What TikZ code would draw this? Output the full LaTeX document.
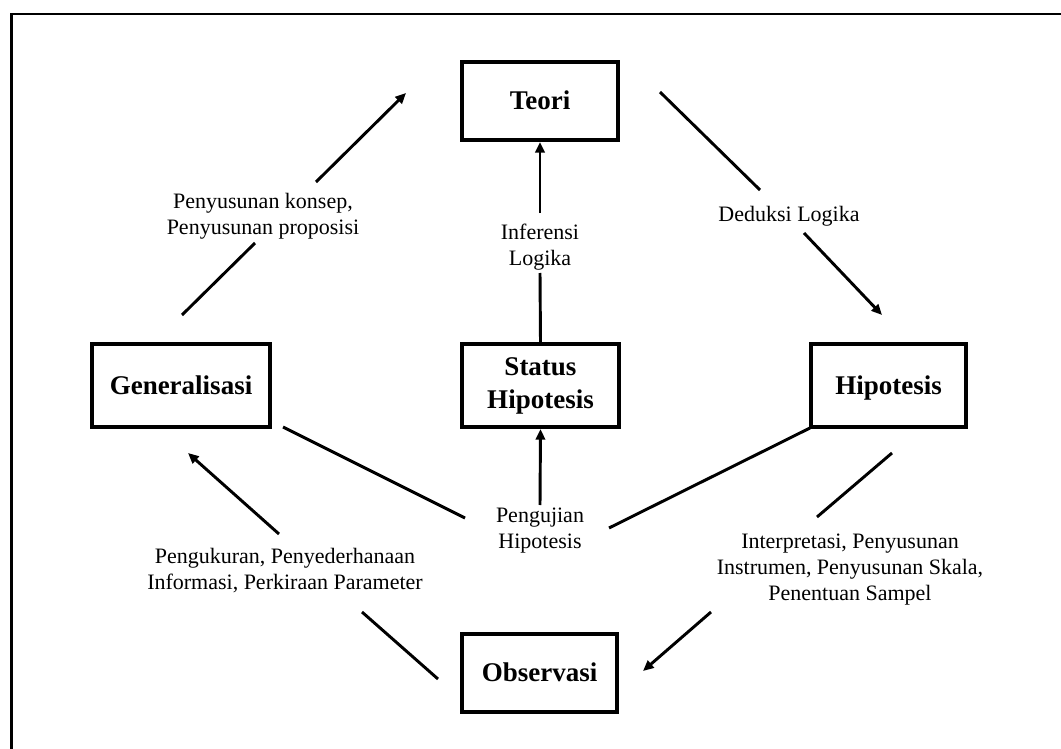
\documentclass[tikz,border=0pt]{standalone}
\usepackage{fontspec}
\setmainfont{Liberation Serif}
\usetikzlibrary{arrows.meta}
\begin{document}
\begin{tikzpicture}[x=0.75pt,y=-0.75pt,
  box/.style={draw,line width=3pt,font=\fontsize{20.25}{24.75}\selectfont\bfseries,align=center,inner sep=0pt},
  single/.style={text height=13.4pt,text depth=0pt},
  lbl/.style={font=\fontsize{16.5}{19.5}\selectfont,align=center,inner sep=0pt},
  conn/.style={line width=2.2pt},
  arr/.style={conn,-{Triangle[length=8pt,width=7pt]}}]
\useasboundingbox (0,0) rectangle (1061,749);
\draw[line width=1.8pt] (11.5,770) -- (11.5,14) -- (1080,14);

% boxes
\node[box,single,minimum width=117pt,minimum height=58.5pt] (teori) at (540,101) {Teori};
\node[box,minimum width=117.75pt,minimum height=62.25pt] (st) at (540.5,385.5) {Status\\Hipotesis};
\node[box,single,minimum width=133.5pt,minimum height=62.25pt] (gen) at (181,385.5) {Generalisasi};
\node[box,single,minimum width=116.25pt,minimum height=62.25pt] (hip) at (888.5,385.5) {Hipotesis};
\node[box,single,minimum width=116.25pt,minimum height=58.5pt] (obs) at (539.5,673) {Observasi};

% coordinates for free ends
\coordinate (gA) at (182,315);
\coordinate (gB) at (255,243);
\coordinate (gC) at (316,182);
\coordinate (gD) at (406,93);
\coordinate (tA) at (660,92);
\coordinate (tB) at (760,190);
\coordinate (tC) at (804,233);
\coordinate (tD) at (882,315);
\coordinate (iU) at (540,213);
\coordinate (iL) at (540,273);
\coordinate (gl1) at (283,427);
\coordinate (gl2) at (465,518);
\coordinate (hl1) at (810,428);
\coordinate (hl2) at (609,528);
\coordinate (ho1) at (892,453);
\coordinate (ho2) at (817,517);
\coordinate (ho3) at (711,612);
\coordinate (ho4) at (643,671);
\coordinate (og1) at (438,679);
\coordinate (og2) at (362,612);
\coordinate (og3) at (279,534);
\coordinate (og4) at (188,453);
\coordinate (pu) at (540,505);

% connectors
\draw[conn] (gA) -- (gB);
\draw[arr] (gC) -- (gD);
\draw[conn] (tA) -- (tB);
\draw[arr] (tC) -- (tD);
\draw[conn] (st.north) -- (iL);
\draw[arr] (iU) -- (teori.south);
\draw[arr] (pu) -- (st.south);
\draw[conn] (gl1) -- (gl2);
\draw[conn] (hl1) -- (hl2);
\draw[conn] (ho1) -- (ho2);
\draw[arr] (ho3) -- (ho4);
\draw[conn] (og1) -- (og2);
\draw[arr] (og3) -- (og4);

% labels
\node[lbl] (l1) at (263,216) {Penyusunan konsep,\\Penyusunan proposisi};
\node[lbl] (l2) at (540,247) {Inferensi\\Logika};
\node[lbl] (l3) at (789,216) {Deduksi Logika};
\node[lbl] (l4) at (540,531) {Pengujian\\Hipotesis};
\node[lbl] (l5) at (285,571) {Pengukuran, Penyederhanaan\\Informasi, Perkiraan Parameter};
\node[lbl] (l6) at (850,570) {Interpretasi, Penyusunan\\Instrumen, Penyusunan Skala,\\Penentuan Sampel};
\end{tikzpicture}
\end{document}
